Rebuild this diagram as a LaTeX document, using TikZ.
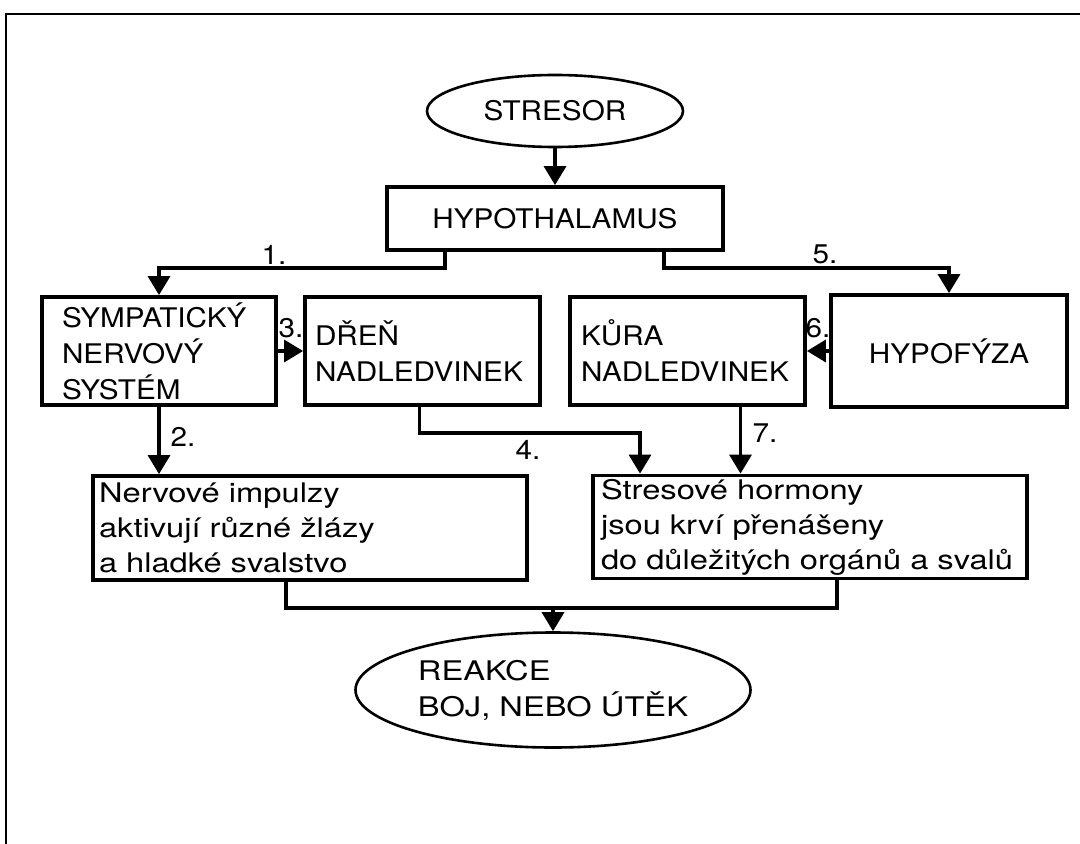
\documentclass[tikz,border=0pt]{standalone}
\usepackage{fontspec}
\setmainfont{TeX Gyre Heros}[FakeStretch=1.1]
\newfontfamily\lowfont{TeX Gyre Heros}[FakeStretch=1.21]
\usetikzlibrary{arrows.meta,shapes.geometric}

\begin{document}
\begin{tikzpicture}[x=0.5pt,y=-0.5pt,
  font=\fontsize{13.5}{18}\selectfont,
  box/.style={draw,line width=1.9pt,rectangle,inner ysep=0pt,align=left},
  lowbox/.style={box,font=\lowfont\fontsize{13.5}{17.5}\selectfont},
  oval/.style={draw,line width=1.3pt,ellipse,inner sep=0pt,align=left},
  link/.style={line width=1.7pt,-{Triangle[length=9.5pt,width=11pt]}},
  line/.style={line width=1.7pt},
  num/.style={inner sep=0pt}]
\useasboundingbox (0,0) rectangle (1080,844);
\draw[line width=1pt] (1080,14) -| (6,844);

% top
\node[oval,minimum width=128pt,minimum height=36pt] (stresor) at (555,111) {STRESOR};
\node[box,align=center,minimum width=168pt,minimum height=31.5pt] (hypo) at (555,218.5) {HYPOTHALAMUS};

% middle row
\node[box,inner xsep=10pt,text width=97pt,minimum height=54pt] (sns) at (159,351) {SYMPATICKÝ\\NERVOVÝ\\SYSTÉM};
\node[box,inner xsep=5pt,text width=107.5pt,minimum height=54pt] (dren) at (422.5,351) {DŘEŇ\\NADLEDVINEK};
\node[box,inner xsep=5.5pt,text width=106.5pt,minimum height=54pt] (kura) at (687.5,351) {KŮRA\\NADLEDVINEK};
\node[box,align=center,inner xsep=10pt,text width=98pt,minimum height=56pt] (hypof) at (949,351) {HYPOFÝZA};

% bottom row
\node[lowbox,inner xsep=3pt,text width=211pt,minimum height=52pt] (nerv) at (310,528) {Nervové impulzy\\aktivují různé žlázy\\a hladké svalstvo};
\node[lowbox,inner xsep=4pt,text width=209pt,minimum height=51.5pt] (horm) at (810,527) {Stresové hormony\\jsou krví přenášeny\\do~důležitých~orgánů~a~svalů};
\node[oval,font=\lowfont\fontsize{13.5}{18}\selectfont,minimum width=197.5pt,minimum height=57.5pt] (reakce) at (553,690) {REAKCE\\BOJ, NEBO ÚTĚK};

% numbers
\node[num] (lab1) at (274,255) {1.};
\node[num] (lab2) at (183,437) {2.};
\node[num] (lab3) at (291,328) {3.};
\node[num] (lab4) at (528,450) {4.};
\node[num] (lab5) at (825,254) {5.};
\node[num] (lab6) at (818,328) {6.};
\node[num] (lab7) at (765,433) {7.};

% arrows
\draw[link] (stresor) -- (hypo);
\draw[link] ([xshift=-55pt]hypo.south) -- ++(0,16) -| (sns);
\draw[link] ([xshift=54.5pt]hypo.south) -- ++(0,16) -| (hypof);
\draw[link] (sns) -- (dren);
\draw[link] (hypof) -- (kura);
\draw[link] (sns.south) -- (sns.south |- nerv.north);
\draw[link] ([xshift=-1.5pt]dren.south) -- ++(0,26) -| ([xshift=-85pt]horm.north);
\draw[link] ([xshift=26.5pt]kura.south) -- ([xshift=26.5pt]kura.south |- horm.north);
\coordinate (join) at (553,608);
\draw[line] ([xshift=-12pt]nerv.south) |- (join) -| ([xshift=13.5pt]horm.south);
\draw[link] (join) -- (reakce);
\end{tikzpicture}
\end{document}
